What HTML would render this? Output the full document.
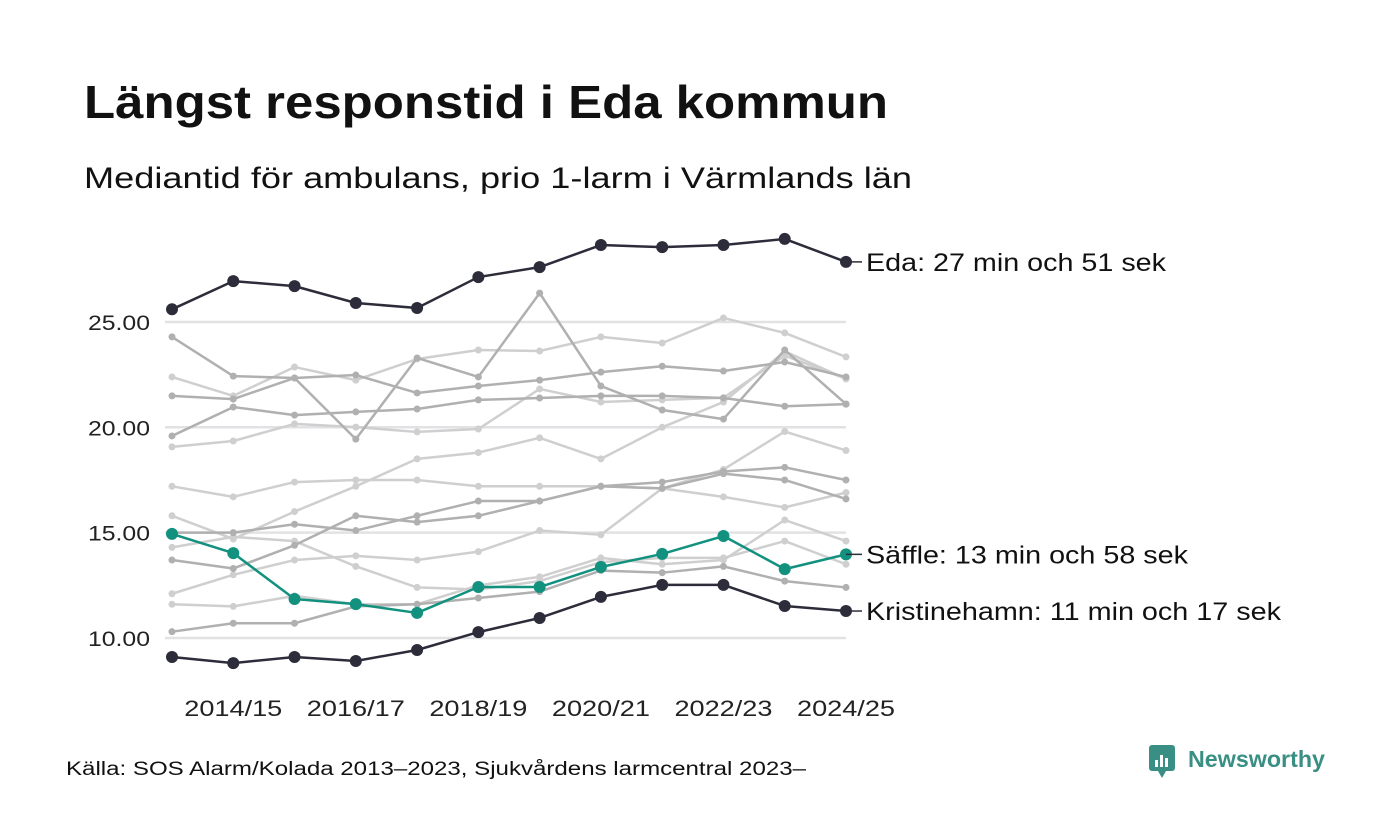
<!DOCTYPE html>
<html><head><meta charset="utf-8"><style>
body{margin:0;background:#fff;font-family:"Liberation Sans",sans-serif}
svg{display:block}
</style></head><body>
<svg width="1400" height="840" id="c">
<text x="84" y="118" font-size="46" font-weight="bold" fill="#111" textLength="804" lengthAdjust="spacingAndGlyphs">Längst responstid i Eda kommun</text>
<text x="84" y="188" font-size="30" fill="#111" textLength="828" lengthAdjust="spacingAndGlyphs">Mediantid för ambulans, prio 1-larm i Värmlands län</text>
<text x="66" y="775" font-size="19" fill="#111" textLength="740" lengthAdjust="spacingAndGlyphs">Källa: SOS Alarm/Kolada 2013–2023, Sjukvårdens larmcentral 2023–</text>
<g>
<rect x="1149" y="745" width="26" height="26" rx="3" fill="#3a8f84"/>
<polygon points="1158,771 1166,771 1162,778" fill="#3a8f84"/>
<rect x="1155" y="760" width="3" height="7" fill="#fff"/><rect x="1160" y="755" width="3" height="12" fill="#fff"/><rect x="1165" y="758" width="3" height="9" fill="#fff"/>
<text x="1188" y="767" font-size="23" font-weight="bold" fill="#3a8f84" textLength="137" lengthAdjust="spacingAndGlyphs">Newsworthy</text>
</g>
<g id="grid"></g><g id="gray"></g><g id="main"></g><g id="axes"></g>
</svg>
<script>
const categories=["2013/14","2014/15","2015/16","2016/17","2017/18","2018/19","2019/20","2020/21","2021/22","2022/23","2023/24","2024/25"];
const yTicks=[10,15,20,25];
const yTickLabels=["10.00","15.00","20.00","25.00"];
const eda=[25.6,26.94,26.7,25.9,25.66,27.13,27.6,28.65,28.55,28.65,28.94,27.85];
const saffle=[14.94,14.03,11.85,11.61,11.19,12.42,12.42,13.37,13.99,14.84,13.27,13.97];
const kristinehamn=[9.1,8.81,9.1,8.91,9.43,10.28,10.95,11.95,12.52,12.52,11.52,11.28];
const grayA=[24.29,22.43,22.34,22.48,21.63,21.96,22.24,22.62,22.9,22.67,23.1,22.39];
const grayB=[21.49,21.34,22.34,19.44,23.29,22.39,26.37,21.96,20.82,20.39,23.67,21.1];
const grayC=[22.39,21.49,22.86,22.24,23.24,23.67,23.62,24.29,24.0,25.19,24.48,23.34];
const grayD=[19.59,20.96,20.58,20.73,20.87,21.3,21.39,21.49,21.49,21.39,21.0,21.1];
const grayE=[19.07,19.35,20.16,20.01,19.78,19.92,21.82,21.2,21.3,21.4,23.4,22.3];
const grayF=[17.2,16.7,17.4,17.5,17.5,17.2,17.2,17.2,17.1,16.7,16.2,16.9];
const grayG=[15.8,14.7,16.0,17.2,18.5,18.8,19.5,18.5,20.0,21.2,23.6,22.3];
const grayH=[14.3,14.8,14.6,13.4,12.4,12.3,12.7,13.6,13.8,13.8,14.6,13.5];
const grayI=[12.1,13.0,13.7,13.9,13.7,14.1,15.1,14.9,17.1,18.0,19.8,18.9];
const grayJ=[13.7,13.3,14.4,15.8,15.5,15.8,16.5,17.2,17.4,17.9,18.1,17.5];
const grayK=[15.0,15.0,15.4,15.1,15.8,16.5,16.5,17.2,17.1,17.8,17.5,16.6];
const grayL=[11.6,11.5,12.0,11.6,11.6,12.5,12.9,13.8,13.5,13.7,15.6,14.6];
const grayM=[10.3,10.7,10.7,11.5,11.6,11.9,12.2,13.2,13.1,13.4,12.7,12.4];
const labels=["Eda: 27 min och 51 sek","Säffle: 13 min och 58 sek","Kristinehamn: 11 min och 17 sek"];
const labelWidths=[300,322,415];

const NS="http://www.w3.org/2000/svg";
const x=i=>172+i*(846-172)/(categories.length-1);
const y=v=>638-(v-10)*21.07;
function mk(t,a,p){const e=document.createElementNS(NS,t);for(const k in a)e.setAttribute(k,a[k]);p.appendChild(e);return e;}
const grid=document.getElementById('grid'),axes=document.getElementById('axes');
yTicks.forEach((t,i)=>{
 const l=mk('line',{x1:165,x2:846,y1:y(t),y2:y(t),stroke:'#e2e2e4','stroke-width':2.5},grid);
 
 
 const tx=mk('text',{x:88,y:y(t)+8,'font-size':21,fill:'#222',textLength:62,lengthAdjust:'spacingAndGlyphs'},axes);
 tx.textContent=yTickLabels[i];
 
 
});
categories.forEach((c,i)=>{if(i%2===1){
 const tx=mk('text',{x:x(i)-49,y:716,'font-size':22,fill:'#222',textLength:98,lengthAdjust:'spacingAndGlyphs'},axes);
 tx.textContent=c;
 
 
}});
function series(vals,g,color,w,r,name){
 const grp=mk('g',{},g);
 
 
 mk('polyline',{points:vals.map((v,i)=>x(i)+','+y(v)).join(' '),fill:'none',stroke:color,'stroke-width':w,'stroke-linejoin':'round'},grp);
 vals.forEach((v,i)=>{const c=mk('circle',{cx:x(i),cy:y(v),r:r,fill:color},grp);
  
  });
}
const gg=document.getElementById('gray');
[[grayC,'#cfcfcf'],[grayE,'#cfcfcf'],[grayF,'#cfcfcf'],[grayG,'#cfcfcf'],[grayH,'#cfcfcf'],[grayI,'#cfcfcf'],[grayL,'#cfcfcf'],
 [grayA,'#b0b0b0'],[grayB,'#b0b0b0'],[grayD,'#b0b0b0'],[grayJ,'#b0b0b0'],[grayK,'#b0b0b0'],[grayM,'#b0b0b0']]
 .forEach(([s,c])=>series(s,gg,c,2.5,3.5,'municipality-line'));
const mg=document.getElementById('main');
series(kristinehamn,mg,'#2d2c3a',2.5,6,'kristinehamn-line');
series(eda,mg,'#2d2c3a',2.5,6,'eda-line');
series(saffle,mg,'#12917f',2.5,6,'saffle-line');
[eda,saffle,kristinehamn].forEach((s,i)=>{
 const v=s[s.length-1];
 mk('line',{x1:846,x2:862,y1:y(v),y2:y(v),stroke:'#2d2c3a','stroke-width':1.5},axes);
 const t=mk('text',{x:866,y:y(v)+9,'font-size':25,fill:'#111',textLength:labelWidths[i],lengthAdjust:'spacingAndGlyphs'},axes);
 t.textContent=labels[i];
 
 
});
</script>
</body></html>
